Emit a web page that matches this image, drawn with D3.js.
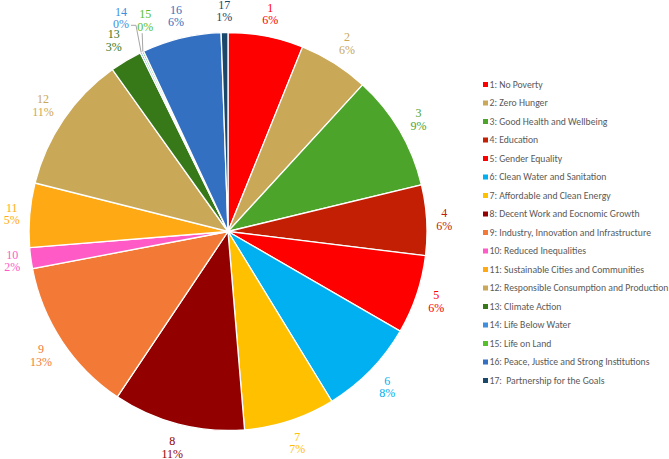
<!DOCTYPE html>
<html>
<head>
<meta charset="utf-8">
<title>SDG share pie</title>
<script src="https://d3js.org/d3.v7.min.js"></script>
<style>
body { margin: 0; background: #fff; }
.slice-label { font-family: "Liberation Serif", "Times New Roman", serif; font-size: 12px; }
.legend text { font-family: Carlito, Calibri, Lato, sans-serif; font-size: 9.7px; fill: #595959; }
</style>
</head>
<body>
<div id="chart"></div>
<script>
// goal numbers, names and share (%)
var goals = ["1","2","3","4","5","6","7","8","9","10","11","12","13","14","15","16","17"];
var goalNames = ["No Poverty","Zero Hunger","Good Health and Wellbeing","Education","Gender Equality",
  "Clean Water and Sanitation","Affordable and Clean Energy","Decent Work and Eocnomic Growth",
  "Industry, Innovation and Infrastructure","Reduced Inequalities","Sustainable Cities and Communities",
  "Responsible Consumption and Production","Climate Action","Life Below Water","Life on Land",
  "Peace, Justice and Strong Institutions"," Partnership for the Goals"];
var shares = [6.1, 5.7, 9.4, 5.7, 6.4, 7.9, 7.4, 10.7, 12.6, 1.7, 5.2, 11.2, 2.6, 0.15, 0.15, 6.4, 0.55];
var colors = ["#ff0000","#c9a857","#4ca42a","#c21f05","#ff0000","#00b0f0","#ffc000","#920000",
  "#f27a36","#ff5ac6","#ffaa14","#c9a857","#377819","#3f8fde","#56c02b","#3370c1","#19486a"];

var W = 669, H = 459;
var cx = 228, cy = 231.5, R = 199;
var labelGap = 9, halfLineBlock = 12.5;

// the two near-empty slices had their labels dragged aside (angle deg, radius)
var movedLabels = { "14": [333.4, 239], "15": [338.6, 227] };

var svg = d3.select("#chart").append("svg")
  .attr("width", W)
  .attr("height", H);

var data = goals.map(function(g, i) {
  return { goal: g, name: goalNames[i], value: shares[i], color: colors[i] };
});
var total = d3.sum(shares);

var pie = d3.pie().sort(null).value(function(d) { return d.value; });
var arc = d3.arc().innerRadius(0).outerRadius(R);
var arcs = pie(data);

var g = svg.append("g").attr("transform", "translate(" + cx + "," + cy + ")");

g.selectAll("path.slice")
  .data(arcs)
  .enter().append("path")
  .attr("class", "slice")
  .attr("d", arc)
  .style("fill", function(d) { return d.data.color; })
  .style("stroke", "#fff")
  .style("stroke-width", 1.3);

function polar(angleRad, r) {
  return [r * Math.sin(angleRad), -r * Math.cos(angleRad)];
}

var labels = g.selectAll("text.slice-label")
  .data(arcs)
  .enter().append("text")
  .attr("class", "slice-label")
  .attr("text-anchor", "middle")
  .style("fill", function(d) { return d.data.color; });

labels.append("tspan")
  .attr("x", 0)
  .attr("y", -2)
  .text(function(d) { return d.data.goal; });

labels.append("tspan")
  .attr("x", 0)
  .attr("y", 10.5)
  .text(function(d) { return Math.round(d.data.value / total * 100) + "%"; });

// outside-end placement: keep a fixed gap between the rim and the label box
labels.each(function(d) {
  var m = movedLabels[d.data.goal];
  var p;
  if (m) {
    p = polar(m[0] * Math.PI / 180, m[1]);
  } else {
    var a = (d.startAngle + d.endAngle) / 2;
    var halfW = this.getBBox().width / 2;
    var ext = Math.abs(Math.sin(a)) * halfW + Math.abs(Math.cos(a)) * halfLineBlock;
    p = polar(a, R + labelGap + ext);
  }
  d.labelPos = p;
  d3.select(this).attr("transform", "translate(" + p[0] + "," + p[1] + ")");
});

// leader lines for moved labels
arcs.forEach(function(d) {
  if (!movedLabels[d.data.goal]) return;
  var p = d.labelPos;
  var tip = polar((d.startAngle + d.endAngle) / 2, R);
  var pts;
  if (d.data.goal === "14") {
    pts = [[p[0] + 10, p[1] + 7.5], [p[0] + 15, p[1] + 7.5], tip];
  } else {
    pts = [[p[0] - 3, p[1] + 13], tip];
  }
  g.insert("path", "text")
    .attr("d", d3.line()(pts))
    .style("fill", "none")
    .style("stroke", "#a6a6a6")
    .style("stroke-width", 1);
});

// legend
var legend = svg.append("g")
  .attr("class", "legend")
  .attr("transform", "translate(483,84.5)");

var item = legend.selectAll("g")
  .data(data)
  .enter().append("g")
  .attr("transform", function(d, i) { return "translate(0," + i * 18.5 + ")"; });

item.append("rect")
  .attr("x", 0)
  .attr("y", -2.5)
  .attr("width", 5)
  .attr("height", 5)
  .style("fill", function(d) { return d.color; });

item.append("text")
  .attr("x", 6.5)
  .attr("y", 0)
  .attr("dy", "0.35em")
  .attr("xml:space", "preserve")
  .style("white-space", "pre")
  .text(function(d) { return d.goal + ": " + d.name; });
</script>
</body>
</html>
